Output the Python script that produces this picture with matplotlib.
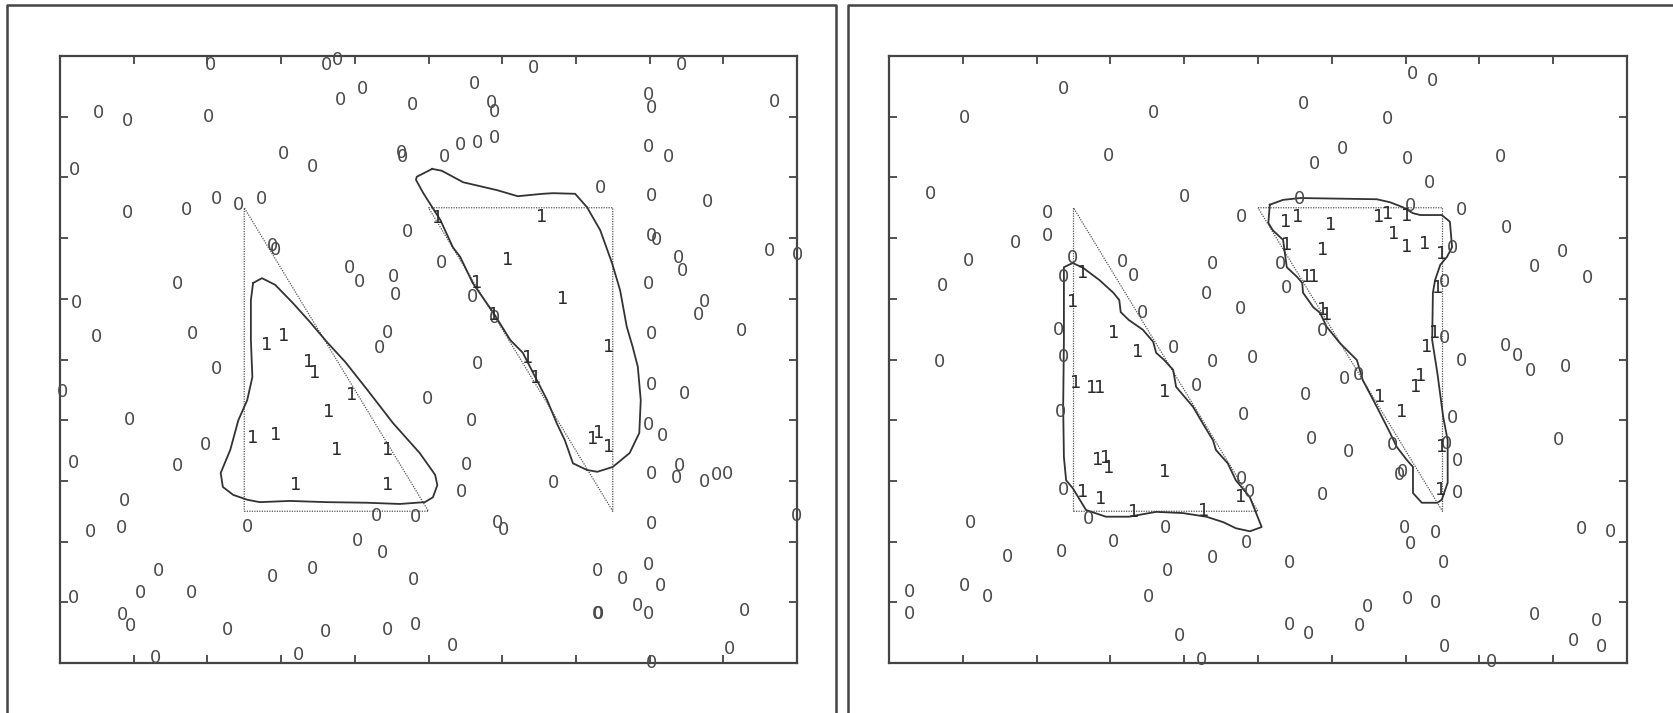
#!/usr/bin/env python3
"""
Two-panel view of a labelled point set with the true class regions
(dotted triangles) and the boundary each classifier learned (solid curves).
"""

import matplotlib
matplotlib.use("Agg")
import matplotlib.pyplot as plt
from matplotlib.lines import Line2D

# True class-1 regions, shared by both panels
TRIANGLE_A = [(2.5, 2.5), (5.0, 2.5), (2.5, 7.5)]
TRIANGLE_B = [(5.0, 7.5), (7.5, 7.5), (7.5, 2.5)]

# ---- left panel ----------------------------------------------------------
LEFT_ZEROS = [
    (2.04, 9.85), (3.62, 9.85), (3.76, 9.93), (4.11, 9.46), (3.80, 9.28),
    (4.78, 9.19), (0.52, 9.06), (0.91, 8.93), (2.02, 9.00), (4.63, 8.40),
    (4.65, 8.34), (3.03, 8.39), (3.43, 8.17), (0.19, 8.12), (0.91, 7.41),
    (1.71, 7.46), (2.13, 7.64), (2.42, 7.55), (2.73, 7.64), (4.71, 7.10),
    (2.89, 6.87), (2.92, 6.80), (3.93, 6.51), (4.06, 6.28), (4.53, 6.36),
    (4.55, 6.06), (1.60, 6.24), (0.22, 5.93), (0.50, 5.37), (1.80, 5.42),
    (4.45, 5.44), (4.33, 5.19), (6.42, 9.80), (8.43, 9.85), (5.62, 9.54),
    (5.85, 9.23), (5.90, 9.08), (7.99, 9.36), (8.02, 9.14), (9.70, 9.24),
    (5.44, 8.53), (5.67, 8.57), (5.89, 8.65), (5.22, 8.34), (7.99, 8.50),
    (8.25, 8.34), (7.34, 7.83), (8.02, 7.69), (8.79, 7.59), (8.02, 7.03),
    (8.09, 6.97), (9.63, 6.79), (10.01, 6.72), (5.18, 6.59), (8.39, 6.67),
    (8.45, 6.46), (5.60, 6.03), (5.89, 5.68), (7.99, 6.24), (8.74, 5.95),
    (8.66, 5.73), (9.25, 5.47), (8.02, 5.42), (2.13, 4.84), (0.03, 4.46),
    (0.94, 4.00), (1.97, 3.59), (0.18, 3.29), (1.60, 3.25), (0.88, 2.67),
    (0.41, 2.16), (0.84, 2.22), (2.54, 2.24), (4.29, 2.42), (4.82, 2.41),
    (4.03, 2.01), (4.37, 1.81), (1.33, 1.52), (3.42, 1.55), (2.88, 1.42),
    (4.79, 1.37), (0.18, 1.07), (1.09, 1.15), (1.79, 1.15), (0.85, 0.79),
    (0.95, 0.61), (2.27, 0.54), (3.60, 0.51), (4.45, 0.54), (4.82, 0.63),
    (1.30, 0.08), (3.24, 0.13), (5.66, 4.93), (4.99, 4.35), (5.59, 3.99),
    (5.51, 3.26), (5.45, 2.82), (6.70, 2.97), (5.94, 2.31), (6.02, 2.19),
    (8.02, 4.58), (8.47, 4.43), (7.98, 3.92), (8.17, 3.74), (8.02, 3.11),
    (8.40, 3.25), (8.36, 3.05), (8.75, 2.98), (8.91, 3.10), (9.06, 3.11),
    (9.99, 2.42), (8.02, 2.29), (7.29, 1.52), (7.63, 1.38), (7.99, 1.61),
    (8.15, 1.27), (5.32, 0.28), (7.29, 0.81), (7.31, 0.81), (7.84, 0.94),
    (7.98, 0.81), (9.29, 0.86), (9.09, 0.23), (8.02, 0.00),
]
LEFT_ONES = [
    (2.81, 5.24), (3.03, 5.39), (3.37, 4.96), (3.46, 4.78), (3.96, 4.42),
    (3.64, 4.14), (2.61, 3.71), (2.92, 3.76), (3.76, 3.51), (4.45, 3.51),
    (3.20, 2.93), (4.44, 2.93), (5.13, 7.33), (6.54, 7.35), (6.08, 6.64),
    (5.66, 6.26), (6.82, 6.00), (5.89, 5.73), (7.44, 5.21), (6.34, 5.02),
    (6.46, 4.70), (7.23, 3.69), (7.31, 3.79), (7.44, 3.56),
]
LEFT_BOUNDARY_A = [
    (2.62, 6.26), (2.74, 6.34), (2.92, 6.23), (3.16, 5.93), (3.39, 5.62),
    (3.62, 5.29), (3.87, 4.96), (4.17, 4.50), (4.52, 3.95), (4.88, 3.46),
    (5.09, 3.10), (5.12, 2.93), (5.06, 2.73), (4.95, 2.65), (4.61, 2.62),
    (4.17, 2.64), (3.62, 2.65), (3.12, 2.67), (2.71, 2.65), (2.54, 2.69),
    (2.35, 2.77), (2.21, 2.90), (2.18, 3.13), (2.31, 3.51), (2.42, 4.00),
    (2.54, 4.33), (2.61, 4.71), (2.59, 5.32), (2.59, 5.98), (2.62, 6.26),
]
LEFT_BOUNDARY_B = [
    (5.05, 8.14), (5.18, 8.11), (5.47, 7.92), (5.93, 7.79), (6.21, 7.69),
    (6.55, 7.73), (6.69, 7.74), (6.99, 7.73), (7.15, 7.51), (7.33, 7.13),
    (7.49, 6.59), (7.60, 6.14), (7.69, 5.54), (7.77, 5.21), (7.84, 4.88),
    (7.88, 4.33), (7.86, 3.79), (7.73, 3.46), (7.50, 3.23), (7.29, 3.15),
    (7.15, 3.18), (6.96, 3.29), (6.85, 3.67), (6.74, 3.95), (6.61, 4.33),
    (6.47, 4.66), (6.28, 5.11), (6.11, 5.32), (5.88, 5.77), (5.60, 6.26),
    (5.43, 6.69), (5.33, 6.85), (5.16, 7.30), (5.05, 7.51), (4.93, 7.74),
    (4.83, 7.96), (4.84, 8.01), (5.05, 8.14),
]

# ---- right panel ---------------------------------------------------------
RIGHT_ZEROS = [
    (2.36, 9.46), (1.02, 8.98), (3.59, 9.06), (2.97, 8.35), (0.56, 7.73),
    (4.00, 7.68), (4.78, 7.35), (2.15, 7.41), (2.15, 7.03), (1.71, 6.92),
    (1.08, 6.62), (0.73, 6.21), (2.49, 6.67), (2.36, 6.36), (3.17, 6.61),
    (3.31, 6.38), (4.39, 6.57), (4.30, 6.08), (4.76, 5.83), (3.44, 5.77),
    (3.85, 5.19), (2.30, 5.49), (2.37, 5.04), (0.68, 4.96), (4.39, 4.96),
    (4.93, 5.02), (7.10, 9.70), (7.37, 9.59), (5.62, 9.21), (6.75, 8.96),
    (6.15, 8.47), (5.76, 8.22), (7.03, 8.30), (8.29, 8.34), (7.33, 7.91),
    (5.56, 7.64), (7.07, 7.53), (7.76, 7.46), (8.37, 7.17), (9.12, 6.77),
    (8.75, 6.52), (9.47, 6.34), (5.31, 6.57), (5.38, 6.18), (5.88, 5.47),
    (7.63, 6.84), (7.53, 6.28), (7.53, 5.35), (2.32, 4.14), (4.17, 4.56),
    (4.80, 4.09), (2.37, 2.85), (4.78, 3.03), (4.88, 2.82), (1.11, 2.31),
    (2.70, 2.37), (3.74, 2.22), (3.04, 1.99), (4.85, 1.98), (1.61, 1.75),
    (2.34, 1.83), (4.39, 1.73), (3.78, 1.52), (0.28, 1.17), (0.28, 0.81),
    (1.02, 1.27), (1.34, 1.09), (3.52, 1.09), (3.94, 0.44), (4.24, 0.05),
    (7.76, 4.98), (8.35, 5.22), (8.52, 5.06), (8.69, 4.81), (9.17, 4.88),
    (6.17, 4.68), (6.36, 4.74), (5.65, 4.42), (7.63, 4.04), (5.73, 3.69),
    (6.23, 3.48), (6.82, 3.59), (7.56, 3.61), (7.71, 3.33), (6.92, 3.10),
    (6.96, 3.15), (7.70, 2.80), (5.87, 2.77), (9.07, 3.67), (6.99, 2.22),
    (7.07, 1.96), (7.40, 2.14), (7.52, 1.65), (5.43, 1.65), (9.39, 2.21),
    (9.77, 2.16), (6.48, 0.92), (6.38, 0.61), (7.03, 1.05), (7.40, 0.99),
    (5.43, 0.63), (5.69, 0.48), (8.75, 0.79), (9.58, 0.69), (9.27, 0.36),
    (9.66, 0.26), (7.53, 0.26), (8.17, 0.02),
]
RIGHT_ONES = [
    (2.62, 6.43), (2.49, 5.95), (3.05, 5.44), (3.37, 5.12), (2.53, 4.61),
    (2.74, 4.53), (2.85, 4.53), (3.73, 4.46), (2.83, 3.34), (2.94, 3.38),
    (2.98, 3.21), (3.73, 3.15), (2.62, 2.82), (2.87, 2.70), (3.31, 2.49),
    (4.27, 2.50), (4.77, 2.73), (5.37, 7.27), (5.54, 7.35), (5.99, 7.22),
    (6.64, 7.35), (6.76, 7.40), (7.02, 7.36), (6.84, 7.07), (7.01, 6.85),
    (7.26, 6.90), (7.49, 6.74), (5.39, 6.89), (5.88, 6.80), (5.66, 6.36),
    (5.75, 6.36), (5.87, 5.82), (5.93, 5.73), (7.43, 6.18), (7.40, 5.44),
    (7.29, 5.21), (7.20, 4.73), (7.13, 4.55), (6.65, 4.38), (6.95, 4.14),
    (7.49, 3.56), (7.47, 2.85),
]
RIGHT_BOUNDARY_A = [
    (2.49, 6.59), (2.63, 6.51), (2.85, 6.31), (3.04, 6.10), (3.12, 5.98),
    (3.14, 5.78), (3.25, 5.65), (3.44, 5.49), (3.58, 5.29), (3.62, 5.11),
    (3.73, 4.99), (3.85, 4.83), (3.89, 4.55), (4.12, 4.22), (4.25, 3.95),
    (4.39, 3.67), (4.43, 3.51), (4.59, 3.29), (4.70, 3.01), (4.89, 2.73),
    (5.05, 2.24), (4.89, 2.17), (4.70, 2.22), (4.53, 2.32), (4.30, 2.41),
    (3.98, 2.47), (3.62, 2.49), (3.25, 2.41), (2.94, 2.41), (2.67, 2.52),
    (2.49, 2.88), (2.40, 3.01), (2.37, 3.39), (2.36, 4.22), (2.37, 5.32),
    (2.37, 6.52), (2.49, 6.59),
]
RIGHT_BOUNDARY_B = [
    (5.16, 7.55), (5.34, 7.63), (5.57, 7.66), (6.61, 7.64), (6.79, 7.59),
    (6.96, 7.51), (7.10, 7.41), (7.20, 7.38), (7.49, 7.38), (7.60, 7.27),
    (7.63, 6.85), (7.56, 6.69), (7.47, 6.56), (7.40, 6.31), (7.37, 6.10),
    (7.36, 5.32), (7.43, 4.78), (7.51, 4.05), (7.57, 3.67), (7.57, 2.97),
    (7.49, 2.69), (7.43, 2.64), (7.22, 2.64), (7.10, 2.80), (7.10, 3.23),
    (7.02, 3.34), (6.88, 3.56), (6.79, 3.79), (6.61, 4.22), (6.42, 4.66),
    (6.34, 4.99), (6.11, 5.27), (5.93, 5.54), (5.84, 5.77), (5.75, 5.86),
    (5.61, 6.10), (5.60, 6.26), (5.53, 6.36), (5.39, 6.52), (5.34, 6.97),
    (5.20, 7.13), (5.14, 7.25), (5.16, 7.55),
]

FRAME_COLOR = "#444444"
ZERO_COLOR = "#4a4a4a"
ONE_COLOR = "#2a2a2a"
LABEL_SIZE = 13


def draw_panel(ax, zeros, ones, boundaries):
    ax.set_xlim(0, 10)
    ax.set_ylim(0, 10)
    ax.set_xticks(range(11))
    ax.set_yticks(range(11))
    ax.tick_params(direction="in", length=6, width=1.3, color=FRAME_COLOR,
                   top=True, right=True, labelbottom=False, labelleft=False)
    for side in ax.spines.values():
        side.set_color(FRAME_COLOR)
        side.set_linewidth(1.6)

    # true regions, dotted
    for tri in (TRIANGLE_A, TRIANGLE_B):
        xs = [p[0] for p in tri] + [tri[0][0]]
        ys = [p[1] for p in tri] + [tri[0][1]]
        ax.plot(xs, ys, color="#555555", linewidth=0.9,
                linestyle=(0, (1, 1)), zorder=2)

    # learned boundaries
    for curve in boundaries:
        ax.plot([p[0] for p in curve], [p[1] for p in curve],
                color="#333333", linewidth=1.3, zorder=3)

    for x, y in zeros:
        ax.text(x, y, "0", ha="center", va="center", fontsize=LABEL_SIZE,
                color=ZERO_COLOR, zorder=4)
    for x, y in ones:
        ax.text(x, y, "1", ha="center", va="center", fontsize=LABEL_SIZE,
                color=ONE_COLOR, zorder=4)


def main():
    W, H = 1673, 713
    fig = plt.figure(figsize=(W / 100, H / 100), dpi=100)

    ax_l = fig.add_axes([60 / W, 50 / H, 737 / W, 607 / H])
    ax_r = fig.add_axes([889 / W, 50 / H, 738 / W, 607 / H])

    draw_panel(ax_l, LEFT_ZEROS, LEFT_ONES, [LEFT_BOUNDARY_A, LEFT_BOUNDARY_B])
    draw_panel(ax_r, RIGHT_ZEROS, RIGHT_ONES, [RIGHT_BOUNDARY_A, RIGHT_BOUNDARY_B])

    # outer panel frames (open at the bottom)
    top = 1 - 5 / H
    frames = [
        ([7 / W, 7 / W, 836 / W, 836 / W], [0, top, top, 0]),
        ([848 / W, 848 / W, 1.0], [0, top, top]),
    ]
    for xs, ys in frames:
        fig.add_artist(Line2D(xs, ys, transform=fig.transFigure,
                              color=FRAME_COLOR, linewidth=1.8))

    fig.savefig("out.png", dpi=100)


if __name__ == "__main__":
    main()
